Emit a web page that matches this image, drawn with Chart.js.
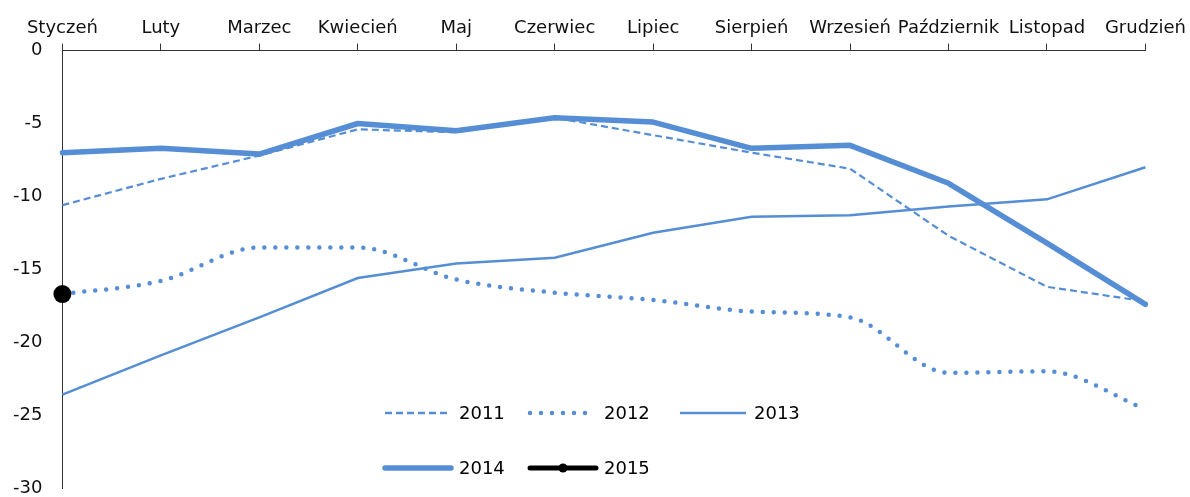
<!DOCTYPE html>
<html lang="pl">
<head>
  <meta charset="UTF-8">
  <title>Wykres miesięczny 2011-2015</title>
  <script src="https://cdn.jsdelivr.net/npm/chart.js"></script>
  <style>
    html, body { margin: 0; padding: 0; background: #fff; }
    #wrap { width: 1190px; height: 497px; position: relative; }
  </style>
</head>
<body>
  <div id="wrap"><canvas id="chart"></canvas></div>

  <script>
    // months (x axis, on top)
    const months = ['Styczeń', 'Luty', 'Marzec', 'Kwiecień', 'Maj', 'Czerwiec',
                    'Lipiec', 'Sierpień', 'Wrzesień', 'Październik', 'Listopad', 'Grudzień'];

    // values
    const y2011 = [-10.6, -8.8, -7.2, -5.4, -5.6, -4.6, -5.8, -7.0, -8.1, -12.7, -16.2, -17.2];
    const y2012 = [-16.7, -15.8, -13.5, -13.5, -15.7, -16.6, -17.1, -17.9, -18.3, -22.1, -22.0, -24.6];
    const y2013 = [-23.6, -20.9, -18.3, -15.6, -14.6, -14.2, -12.5, -11.4, -11.3, -10.7, -10.2, -8.0];
    const y2014 = [-7.0, -6.7, -7.1, -5.0, -5.5, -4.6, -4.9, -6.7, -6.5, -9.1, -13.2, -17.4];
    const y2015 = [-16.7, null, null, null, null, null, null, null, null, null, null, null];

    const yTicks = [0, -5, -10, -15, -20, -25, -30];

    const blue = '#558ED5';
    const font = { family: 'DejaVu Sans', size: 18 };

    // legend drawn inside the plot, two rows like the original
    const legendItems = [
      { label: '2011', col: 0, row: 0, color: blue, width: 2.5, dash: [7, 4], cap: 'butt' },
      { label: '2012', col: 1, row: 0, color: blue, width: 4.5, dash: [0, 11], cap: 'round' },
      { label: '2013', col: 2, row: 0, color: blue, width: 2.5, dash: [], cap: 'butt' },
      { label: '2014', col: 0, row: 1, color: blue, width: 5.5, dash: [], cap: 'round' },
      { label: '2015', col: 1, row: 1, color: '#000', width: 5, dash: [], cap: 'round', dot: 4.5 }
    ];

    const insideLegend = {
      id: 'insideLegend',
      afterDraw(chart) {
        const ctx = chart.ctx;
        const colX = [383, 528, 678];
        const rowY = [413, 468];
        ctx.save();
        ctx.font = font.size + 'px ' + font.family;
        ctx.textBaseline = 'middle';
        ctx.fillStyle = '#000';
        legendItems.forEach(it => {
          const x = colX[it.col], y = rowY[it.row];
          ctx.beginPath();
          ctx.strokeStyle = it.color;
          ctx.lineWidth = it.width;
          ctx.lineCap = it.cap;
          ctx.setLineDash(it.dash);
          ctx.moveTo(x + 2, y);
          ctx.lineTo(x + 68, y);
          ctx.stroke();
          ctx.setLineDash([]);
          if (it.dot) {
            ctx.beginPath();
            ctx.fillStyle = it.color;
            ctx.arc(x + 35, y, it.dot, 0, Math.PI * 2);
            ctx.fill();
            ctx.fillStyle = '#000';
          }
          ctx.fillText(it.label, x + 76, y + 1);
        });
        ctx.restore();
      }
    };

    new Chart(document.getElementById('chart'), {
      type: 'line',
      data: {
        labels: months,
        datasets: [
          {
            label: '2015', data: y2015, order: 0, clip: false,
            borderColor: '#000', backgroundColor: '#000', borderWidth: 5,
            pointRadius: 9, pointHoverRadius: 9, pointBackgroundColor: '#000', pointBorderWidth: 0
          },
          {
            label: '2014', data: y2014, order: 1,
            borderColor: blue, borderWidth: 5.5, pointRadius: 0,
            borderCapStyle: 'round', borderJoinStyle: 'round', tension: 0
          },
          {
            label: '2013', data: y2013, order: 2,
            borderColor: blue, borderWidth: 2.5, pointRadius: 0, tension: 0
          },
          {
            label: '2012', data: y2012, order: 3,
            borderColor: blue, borderWidth: 4.5, pointRadius: 0,
            borderDash: [0, 11], borderCapStyle: 'round',
            cubicInterpolationMode: 'monotone'
          },
          {
            label: '2011', data: y2011, order: 4,
            borderColor: blue, borderWidth: 2.2, pointRadius: 0,
            borderDash: [7, 4], tension: 0
          }
        ]
      },
      options: {
        responsive: true,
        maintainAspectRatio: false,
        animation: false,
        events: [],
        layout: { padding: { top: 14, left: 13, right: 4, bottom: 0 } },
        plugins: {
          legend: { display: false },
          tooltip: { enabled: false }
        },
        scales: {
          x: {
            position: 'top',
            offset: false,
            grid: { display: true, drawOnChartArea: false, drawTicks: true, tickLength: 7, color: '#333', lineWidth: 1 },
            border: { display: true, color: '#333', width: 1 },
            ticks: { color: '#111', font: font, padding: 4, maxRotation: 0, autoSkip: false }
          },
          y: {
            min: -30,
            max: 0,
            // invisible tick marks keep the labels away from the axis line
            grid: { display: true, drawOnChartArea: false, drawTicks: true, tickLength: 20, color: 'rgba(0,0,0,0)' },
            border: { display: true, color: '#333', width: 1 },
            afterBuildTicks: axis => { axis.ticks = yTicks.map(v => ({ value: v })); },
            ticks: { color: '#111', font: { family: font.family, size: font.size, lineHeight: 1 }, padding: 0 }
          }
        }
      },
      plugins: [insideLegend]
    });
  </script>
</body>
</html>
